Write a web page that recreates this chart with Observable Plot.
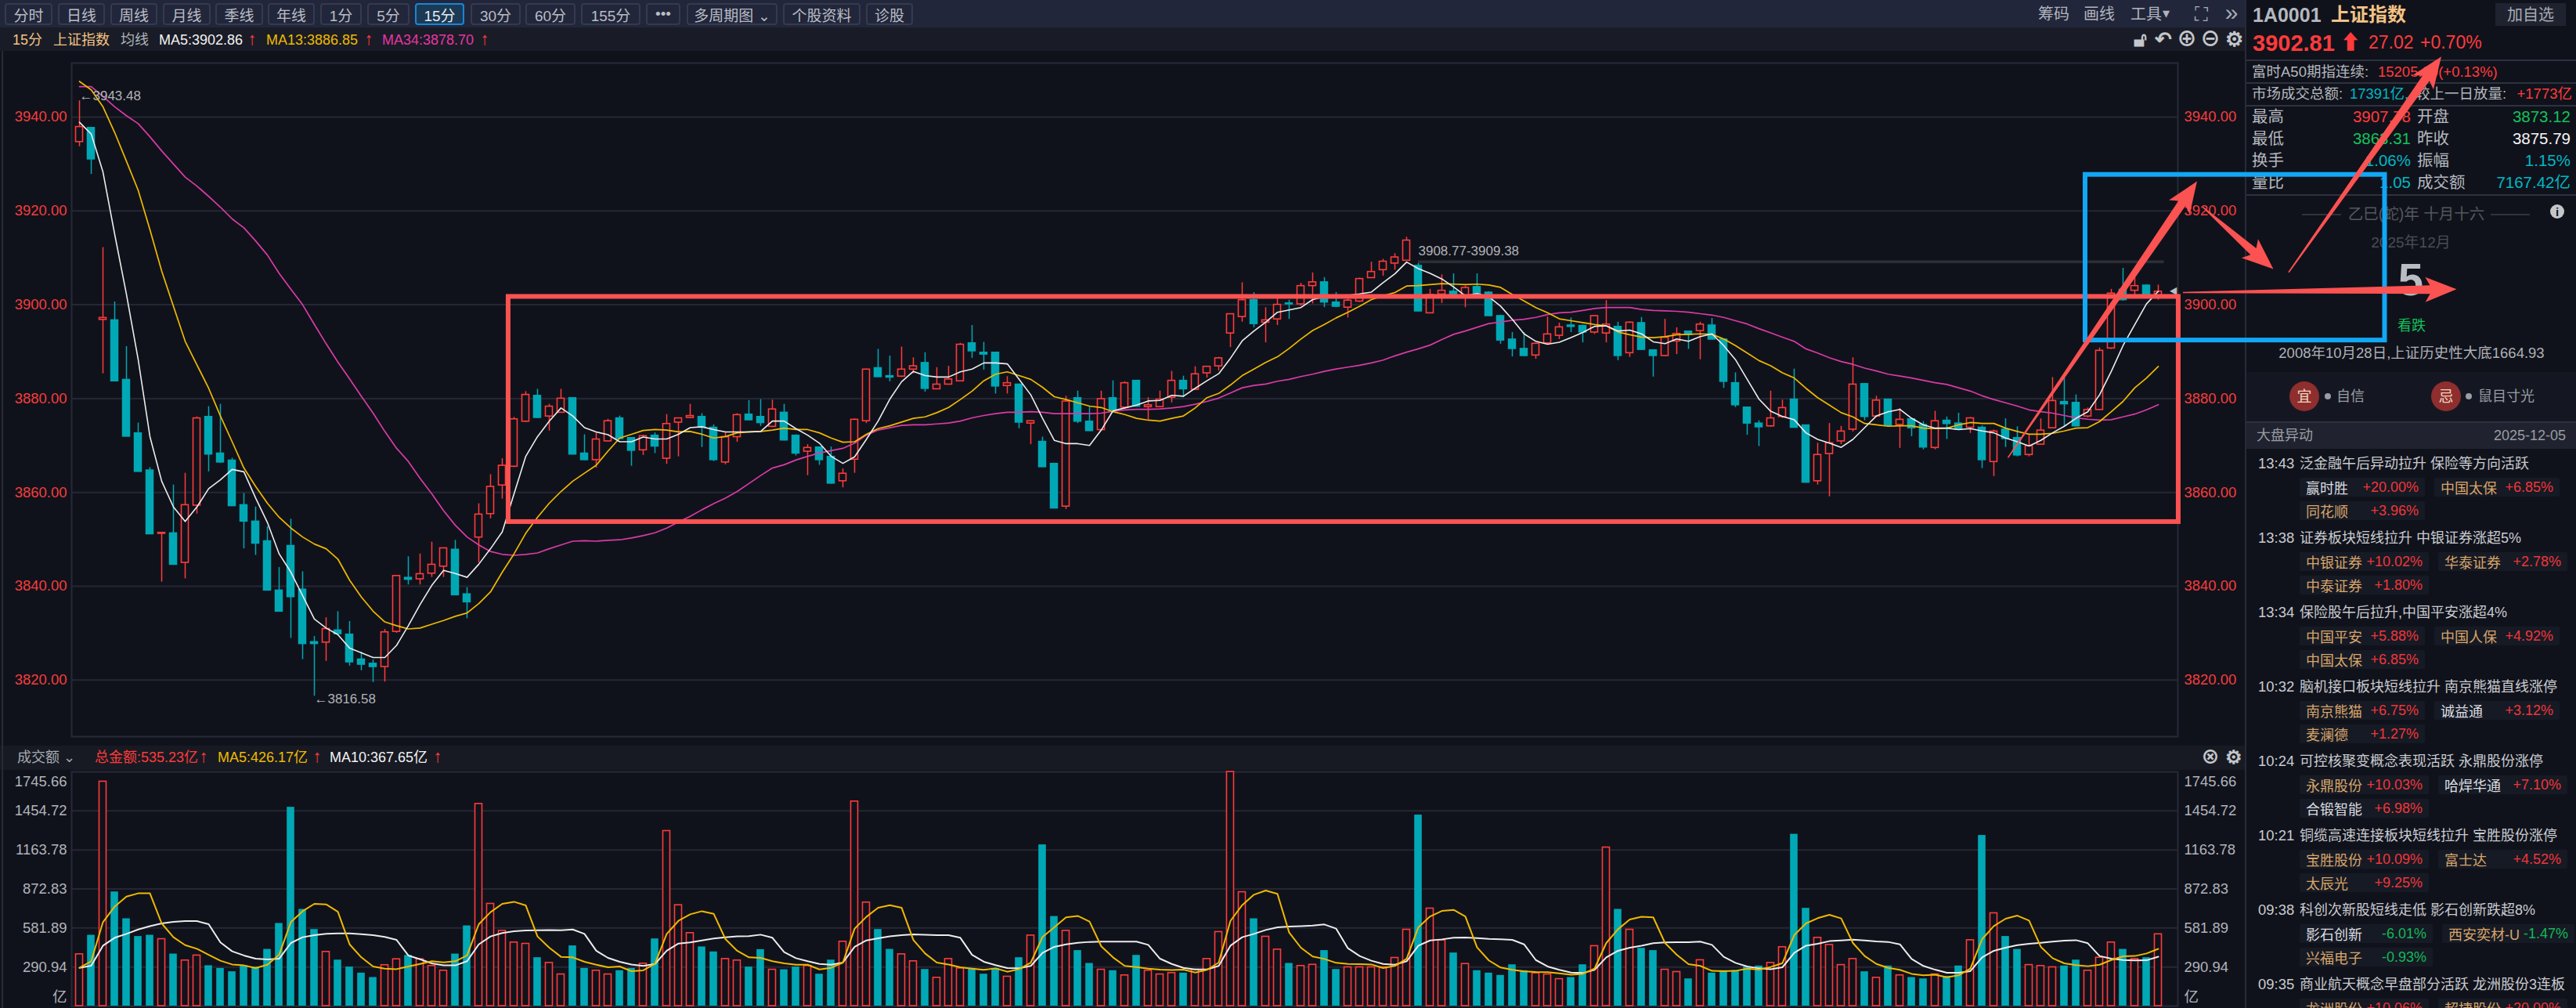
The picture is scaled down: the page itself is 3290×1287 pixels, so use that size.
<!DOCTYPE html>
<html lang="zh">
<head>
<meta charset="utf-8">
<title>上证指数 15分</title>
<script src="https://cdn.jsdelivr.net/npm/d3@7"></script>
<script src="https://cdn.jsdelivr.net/npm/@observablehq/plot@0.6"></script>
<style>
html,body{margin:0;padding:0;width:3290px;height:1287px;overflow:hidden;background:#10121b;font-family:"Liberation Sans","Noto Sans CJK SC",sans-serif;}
.a{position:absolute;white-space:nowrap;line-height:1;}
.c{transform:translate(-50%,-50%);}
.m{transform:translateY(-50%);}
.r{transform:translate(-100%,-50%);}
svg.plot,svg{display:block;}
#stage{position:absolute;left:0;top:0;width:3290px;height:1287px;overflow:hidden;}
.btn{position:absolute;top:4px;height:28px;box-sizing:border-box;border:2px solid #353a4e;border-radius:4px;background:#22263a;color:#b9bdc6;font-size:19px;display:flex;align-items:center;justify-content:center;}
.btn.on{background:#1c3a55;border-color:#1787d8;color:#e6e9ee;}
.pill{position:absolute;height:24px;background:#161a24;border-radius:2px;display:flex;align-items:center;justify-content:space-between;box-sizing:border-box;padding:0 8px;font-size:18px;white-space:nowrap;}
</style>
</head>
<body>
<div id="stage"></div>
<script>
// ---------- Candles (15 minute bars) ----------
const opens = [
3934.7,3937.7,3896.8,3896.7,3884,3872.6,3864.7,3851.2,3851.3,3845,
3857.2,3876.1,3868.3,3866.8,3857.3,3853.8,3849.6,3839.1,3848.6,3839.3,
3828.1,3828,3830.6,3829.7,3824.4,3823.5,3822.8,3830.3,3841.8,3841.5,
3842.7,3844.2,3847.8,3838.3,3850.4,3855.4,3861.5,3865.5,3875.1,3880.6,
3876.2,3877,3880.1,3868.3,3866.9,3870.9,3875.8,3871.6,3869,3872.1,
3867.2,3874.9,3875.9,3876.1,3873.8,3866.4,3871.8,3876.6,3876.1,3874,
3877,3872.1,3868.7,3869.6,3867.6,3862.4,3867,3875.2,3886.5,3884.8,
3884.7,3886.2,3887.6,3882,3883,3883.7,3891.8,3889.8,3889.8,3882.7,
3883,3874.7,3870.8,3866.1,3857,3880.1,3875.1,3873.3,3880.1,3878.1,
3883.8,3878.2,3878.2,3880.2,3883.8,3881.9,3885.4,3886.9,3893.9,3897.4,
3901,3896.2,3896.9,3900.3,3900.1,3904,3904.8,3900.5,3899.4,3900.7,
3905.7,3907.4,3908.8,3909.4,3908.3,3898.2,3902.2,3902.8,3902,3903.8,
3902.6,3897.6,3892.6,3890.6,3889.2,3891.8,3893.4,3895.6,3895.5,3894.1,
3893.9,3895.3,3889.7,3896.1,3890.3,3889.1,3892.2,3894.3,3894.4,3895.6,
3892.6,3883.3,3878.1,3874.7,3874.1,3876.1,3879.8,3874.3,3862.4,3868.2,
3870.9,3873.4,3883.1,3876.2,3879.8,3874.4,3875.6,3874.4,3869.5,3875.3,
3874.7,3873.8,3873.8,3866.5,3873.4,3871.6,3868,3870.2,3873.7,3879.3,
3879.1,3876.2,3877.6,3890.7,3903.2,3903,3904.1,3901.8];
const closes = [
3937.9,3931,3897.2,3883.7,3871.9,3864.4,3851.1,3851.4,3844.6,3857.3,
3875.8,3868.1,3866.4,3857.1,3853.8,3849.1,3839.1,3834.6,3837.7,3827.7,
3827.7,3830.9,3829.8,3823.8,3823.3,3822.8,3830.2,3842.2,3841.4,3842.6,
3844.6,3848.1,3838.1,3836.6,3855.3,3861.2,3865.7,3875.6,3880.8,3875.9,
3878.3,3880,3868.1,3866.9,3871.3,3875.2,3871.4,3868.9,3872,3869.8,
3874.6,3875.8,3876.3,3873.8,3866.9,3871.8,3876.5,3875.4,3874.8,3877.7,
3871.1,3868.3,3869.5,3866.9,3861.9,3864,3875.5,3886.2,3884.6,3884.5,
3886.2,3886.9,3882.1,3883,3884.1,3891.5,3890.1,3889.4,3882.6,3883.3,
3874.9,3875.2,3865.4,3856.6,3879.4,3875.1,3873.1,3879.9,3877.4,3883.3,
3878.3,3878.6,3879.8,3883.8,3882,3885.2,3886.8,3888.6,3898,3901,
3895.9,3896.7,3900,3900.1,3904,3904.8,3900.5,3899.6,3900.9,3905.5,
3907,3909.2,3910.1,3913.7,3898.6,3902.1,3903,3901.9,3903.6,3902.2,
3897.6,3892.4,3890.6,3889.1,3891.7,3893.7,3895.2,3895.3,3894.1,3897.6,
3895.8,3889.1,3896.2,3890.4,3889.1,3893,3893.8,3893.6,3895.8,3892.6,
3883.6,3878.6,3874.7,3873.9,3875.8,3878,3873.8,3862.1,3868,3870.5,
3873,3883,3876.1,3879.6,3874.2,3875.5,3873.7,3869.6,3875.2,3874.6,
3873.4,3875.8,3866.9,3873,3871.4,3867.9,3869.9,3873.2,3879.5,3878.8,
3874.1,3877.6,3890.2,3902.4,3901,3904,3901.9,3902.81];
const highs = [
3943.48,3937.7,3912.2,3900.6,3891.1,3874.8,3865.3,3851.5,3861.6,3864.1,
3876.1,3878.3,3878.8,3867.3,3859.8,3856.9,3852.7,3844,3854.3,3843.1,
3829.3,3833.3,3834.6,3832.5,3826,3824.3,3830.8,3842.3,3846.3,3846.9,
3849.4,3848.2,3849.8,3839.7,3857.6,3863.8,3867.2,3876,3881.5,3882,
3878.8,3882,3880.2,3872.3,3872.7,3875.6,3876.3,3871.7,3872.2,3872.7,
3876.6,3875.9,3878.8,3876.8,3874.4,3872.7,3876.8,3879.6,3879.8,3879.7,
3878.8,3872.3,3870.2,3869.7,3869.7,3865,3875.7,3886.3,3890.5,3889.1,
3891,3888.7,3889.8,3886.6,3886.9,3891.8,3895.6,3892,3889.9,3884.7,
3883.1,3875.3,3871.8,3866.2,3880.5,3881.6,3878.3,3881.6,3883.8,3883.6,
3883.9,3880.2,3881.6,3885.8,3884.8,3886.8,3886.9,3888.8,3898.1,3904.7,
3902.6,3899.4,3902,3901,3904.6,3906.8,3905.8,3902.6,3901.6,3905.7,
3909.1,3909.7,3910.9,3914.4,3908.8,3903.3,3906.4,3906.6,3904,3906.6,
3902.8,3897.8,3894.1,3894.1,3891.8,3897.4,3896.1,3897.2,3895.7,3897.7,
3900.9,3896.3,3896.4,3897.3,3890.4,3896.9,3895.1,3894.4,3896.3,3897.1,
3892.7,3885.5,3878.2,3875.3,3881.6,3879.7,3886.3,3874.4,3870.5,3874.7,
3874.1,3888.7,3883.2,3880.5,3879.9,3877.9,3875.7,3875.1,3877.3,3876.1,
3876.9,3876,3874.2,3873.3,3875.7,3874,3872.2,3875.7,3884.5,3884.4,
3880.8,3878,3890.8,3903.3,3907.78,3905.8,3904.3,3904.2];
const lows = [
3933.7,3927.8,3885.3,3883.7,3871.9,3864.4,3851.1,3840.9,3844.6,3841.6,
3855.4,3864.4,3866.2,3857,3848,3846.6,3839,3834.6,3828.9,3824.4,
3816.58,3824,3829.7,3823,3822,3819.5,3819.6,3830,3840.3,3840.3,
3841.9,3841.9,3838,3833.1,3845,3854.4,3858.6,3865.3,3874.9,3875.8,
3873.1,3876.9,3868,3866.8,3865.2,3870.8,3871.3,3865.6,3867.9,3868.3,
3866,3867.6,3875.8,3869.6,3866.6,3865.9,3870.7,3875.3,3874.1,3873.8,
3871,3867.8,3863.6,3865.8,3861.8,3861,3864.1,3874.7,3884.5,3883.6,
3884.5,3885.3,3881.4,3881.9,3882.9,3883.7,3888.6,3886.1,3881,3881,
3873.6,3870.2,3865.3,3856.5,3856.4,3874.7,3873,3873.1,3877.3,3878,
3878.2,3875.5,3878.1,3879.1,3880.2,3881.8,3884.4,3885.9,3890.9,3896.3,
3895.1,3891.9,3895.6,3896.9,3899.7,3900.2,3899.4,3899.4,3897.2,3900.5,
3905.6,3906.1,3907.4,3909.3,3898.5,3898.1,3900.3,3901.8,3899.4,3901.9,
3897.5,3891.6,3888.9,3889,3888.4,3891.6,3892.6,3894.1,3891.9,3893.7,
3891.9,3888.1,3888.8,3890.3,3884.6,3889,3889.4,3890.5,3888.3,3892.5,
3882.2,3878.1,3872.2,3869.8,3873.9,3875.8,3873.7,3862,3861.6,3859.1,
3870.2,3872.9,3875.3,3876,3874.1,3869.4,3871.9,3869.1,3869.1,3871.3,
3873.3,3872.6,3865.1,3863.4,3869.6,3867.6,3867.6,3870.1,3873.6,3874.1,
3874,3875.9,3877.5,3890.5,3900.8,3901.6,3901.8,3901];
// ---------- Moving averages on price ----------
const ma5 = [
3938.9,3936.4,3928.3,3915,3902.2,3888.3,3871.9,3862.4,3856.9,3853.8,
3856.9,3860.8,3862.7,3864.9,3864.4,3858.8,3853.6,3846.9,3843,3838,
3833,3831.1,3829.7,3826.8,3825.8,3824.8,3824.8,3827.4,3831.6,3836.1,
3840.2,3843.4,3842.7,3841.9,3844.7,3848,3851.6,3859.7,3867.7,3871.9,
3875.2,3878,3876.3,3873.8,3872.9,3872.3,3870.8,3870.8,3871.8,3871.4,
3871.4,3872.4,3873.8,3874,3873.4,3872.9,3872.9,3872.9,3873,3875.2,
3875.2,3873.6,3872.2,3870.5,3867.7,3866.2,3867.6,3871.3,3875.2,3879.9,
3883.6,3885.8,3884.9,3884.6,3884.6,3885.7,3886.3,3887.6,3887.6,3887.4,
3884.1,3880.8,3875.8,3871.1,3870.4,3870.4,3870,3873.3,3877.4,3878,
3878.6,3879.5,3879.6,3880.7,3880.5,3882.2,3883.8,3885.3,3888.6,3892.3,
3894.4,3896.3,3898.4,3898.9,3899.4,3901.1,3901.7,3901.9,3902,3902.3,
3902.7,3904.7,3906.6,3909.1,3907.7,3906.7,3905.5,3903.8,3901.9,3902.4,
3901.7,3899.7,3896.9,3893.8,3892.2,3891.6,3892,3893,3894.1,3895.4,
3895.5,3894.4,3894.6,3893.8,3892.1,3891.7,3892.7,3892.2,3893.2,3893.8,
3891.3,3888.3,3884.1,3879.9,3877.3,3876.2,3875.5,3872.7,3871.3,3870.5,
3869.6,3871.3,3873.8,3876.3,3877.2,3877.7,3875.8,3874.4,3873.7,3873.7,
3873.4,3873.6,3873.1,3872.7,3871.6,3870.8,3869.9,3871.1,3872.7,3874.1,
3875.8,3877.2,3880.8,3885.8,3891.3,3895.8,3900.2,3902.86];
const ma13 = [
3947.6,3945.8,3942.2,3936.7,3930.6,3924.4,3916,3907.2,3899.7,3892.2,
3887.2,3882.2,3876.3,3870.8,3865.2,3861.3,3857.7,3854.7,3852.4,3850.5,
3849,3848,3845.8,3841.3,3837.7,3834.7,3832.4,3831.6,3830.9,3831.1,
3831.9,3832.7,3833.6,3834.3,3836.3,3838.8,3843,3846.9,3851.3,3854.7,
3857.7,3860.2,3862.4,3864.1,3865.8,3868.8,3871.6,3872.4,3873.2,3873.4,
3873.3,3872.9,3873,3872.4,3871.6,3871.9,3872.7,3872.9,3873,3873.3,
3873.7,3873.4,3873.4,3872.7,3871.6,3870.7,3870.8,3872.4,3873.6,3874.2,
3875,3875.8,3876.1,3877,3878.1,3879.8,3881.6,3883.8,3885.2,3885.7,
3884.9,3884.1,3882.4,3880.4,3879.8,3879.1,3878.4,3878.1,3877.2,3876.6,
3875.8,3875.4,3875.2,3875.8,3876.3,3878,3880.2,3881.1,3882.9,3884.9,
3886.3,3887.7,3888.9,3890.7,3892.7,3894.5,3895.8,3897.2,3898.4,3899.7,
3901.1,3901.9,3902.6,3904,3904.1,3904.3,3904.5,3904.4,3904.3,3904.4,
3904.2,3903.7,3902.2,3900.8,3899.4,3898.3,3897,3896.6,3896.2,3895.8,
3895.5,3894.2,3893.6,3893.1,3893,3893.2,3893.6,3893.7,3893.8,3893.7,
3892.7,3891.3,3889.7,3888.1,3887,3885.5,3884.4,3882.2,3880.2,3878.6,
3877,3876.1,3874.7,3874.4,3874.1,3874.2,3874.2,3873.7,3873.6,3873.7,
3874.4,3874.9,3874.7,3874.7,3873.7,3873,3872.4,3872.4,3872.6,3873.1,
3873.7,3873.8,3875.1,3877.2,3879.4,3882.3,3884.4,3886.85];
const ma34 = [
3946.5,3946.5,3944.4,3942.2,3940.3,3938.6,3935.8,3932.8,3930,3927.2,
3925.3,3923.1,3920.8,3918.3,3916.4,3913.6,3910.6,3906.7,3903.3,3900,
3895.8,3891.7,3887.8,3884.2,3880.5,3876.9,3873,3869.4,3866.6,3863,
3859.7,3856.1,3853,3850.5,3848.8,3847.4,3846.8,3846.6,3846.8,3847.1,
3848,3848.8,3849.6,3849.7,3849.6,3849.8,3849.9,3850.3,3850.8,3851.4,
3852.4,3853.7,3854.9,3856.3,3857.6,3858.8,3860.2,3861.9,3863.6,3865.2,
3865.9,3866.9,3867.7,3868.4,3868.9,3869.4,3870.5,3872.2,3873.3,3873.8,
3874.3,3874.4,3874.4,3874.6,3874.8,3875.2,3875.9,3876.4,3876.8,3877.1,
3877.1,3877.2,3877.1,3876.8,3876.8,3876.8,3876.8,3876.9,3877.3,3877.6,
3877.7,3877.7,3877.8,3878,3878.3,3878.8,3879.4,3880.1,3881.2,3882.3,
3882.8,3883.1,3883.7,3884.1,3884.7,3885.2,3885.8,3886.3,3886.7,3887.1,
3887.6,3888.2,3889.1,3889.9,3890.6,3891.4,3892.6,3893.7,3894.4,3895.2,
3896,3896.3,3896.7,3896.9,3897.3,3897.9,3898.3,3898.4,3898.8,3899.2,
3899.4,3899.4,3899.4,3899,3898.8,3898.7,3898.6,3898.4,3898.1,3897.8,
3897.3,3896.6,3895.9,3894.9,3894,3893.1,3892.2,3890.6,3889.7,3888.7,
3887.9,3887.3,3886.5,3885.9,3885.2,3884.8,3884.4,3883.9,3883.4,3883,
3882.3,3881.6,3880.6,3879.8,3879.1,3878.4,3877.6,3877.2,3876.9,3876.4,
3875.9,3875.6,3875.4,3875.5,3876.1,3876.7,3877.6,3878.7];
// ---------- Turnover (亿) ----------
const volumes = [
386,528,1673,851,651,519,528,499,388,340,
377,301,281,256,301,291,423,616,1482,721,
571,404,343,291,246,213,305,349,378,349,
299,264,388,598,1507,762,561,474,464,361,
322,236,449,281,264,236,264,281,316,501,
1305,752,544,441,404,351,340,291,421,271,
271,291,299,238,343,480,1525,772,571,423,
386,334,273,211,351,281,281,238,281,219,
361,526,1202,668,561,414,318,271,264,229,
378,264,236,246,246,271,351,552,1745.66,849,
651,517,421,318,299,308,414,273,289,289,
289,289,359,569,1424,727,489,396,314,264,
246,229,308,264,244,236,201,213,308,447,
1182,721,569,431,414,271,254,203,342,246,
264,264,291,299,322,439,1281,729,509,456,
306,351,256,211,299,229,213,203,236,221,
299,491,1272,692,519,423,306,299,289,299,
343,264,361,474,423,351,361,535.23];
const volMa5 = [
285,334,626,742,816,840,840,616,513,454,
427,382,338,310,303,283,308,382,626,707,
762,758,703,460,363,295,279,275,295,314,
334,326,334,377,610,700,762,777,750,519,
435,367,363,330,308,289,295,260,266,314,
538,635,684,707,688,499,412,363,359,334,
318,308,308,273,285,324,577,665,733,752,
733,493,392,324,310,289,279,270,281,256,
275,324,515,587,661,672,630,445,363,299,
291,279,271,268,271,250,270,324,635,752,
830,861,836,548,435,369,351,322,314,312,
310,283,299,353,587,668,709,717,668,437,
340,287,270,258,254,252,244,233,240,279,
470,573,645,666,661,470,382,312,299,262,
260,262,279,271,291,320,528,616,655,680,
653,470,373,314,285,270,240,229,233,215,
229,279,499,596,651,674,637,441,357,318,
305,297,308,343,371,373,392,426.17];
const volMa10 = [
285,301,450,509,538,571,596,616,628,633,
633,610,474,408,377,353,347,353,470,513,
528,538,542,542,536,528,515,493,377,349,
318,303,303,334,460,519,544,557,563,565,
567,565,571,538,412,359,330,310,299,314,
412,466,474,489,503,513,519,521,532,509,
402,357,334,314,308,324,441,489,505,519,
528,534,532,528,528,509,382,330,305,283,
281,299,396,441,460,472,478,480,480,480,
480,456,353,314,285,273,273,299,450,513,
538,567,587,593,596,600,608,577,431,373,
338,314,308,334,450,489,497,509,511,507,
501,497,493,460,343,295,270,250,246,270,
363,412,435,450,468,474,476,476,480,456,
367,322,295,281,275,289,396,450,464,484,
489,495,489,482,478,460,351,299,271,248,
248,260,363,412,435,454,464,472,480,487,
491,468,373,353,343,340,341,367.65];
// ---------- Ticks ----------
const priceTicks = [3820,3840,3860,3880,3900,3920,3940];
const volTicks = [290.94,581.89,872.83,1163.78,1454.72];
// ---------- Hand-drawn annotations, in chart units (bar index, price) ----------
const redBox  = {x1:36.53, x2:178.73, y1:3853.7, y2:3901.7};
const blueBox = {x1:170.8, x2:196.3, y1:3892.4, y2:3927.7};
const arrowTails = [[164.2,3867.4],[180.8,3920.8],[188.1,3906.9],[179.1,3902.6]];
const arrowTips  = [[180.3,3926.3],[186.8,3907.6],[201.1,3952.9],[202.4,3903.3]];
// ---------- Layout constants ----------
const RED="#ff3b3b",CYAN="#00a8b5",BG="#10121b",GRID="#242733",ANN="#fb5252";
const FONT='"Liberation Sans","Noto Sans CJK SC",sans-serif';
const PXX=15, PXY=5.99;

const bars = d3.range(178).map(i=>({i,o:opens[i],c:closes[i],h:highs[i],l:lows[i],up:closes[i]>=opens[i],v:volumes[i],ma5:ma5[i],ma13:ma13[i],ma34:ma34[i],vm5:volMa5[i],vm10:volMa10[i]}));
const up = bars.filter(d=>d.up), dn = bars.filter(d=>!d.up);

// tapered arrow outline, worked out in screen-proportional units then returned in chart units
function arrowPoly(id,[x0,y0],[x1,y1]){
  const dx=(x1-x0)*PXX, dy=(y1-y0)*PXY, L=Math.hypot(dx,dy), ux=dx/L, uy=dy/L, nx=-uy, ny=ux;
  const headL=40, headW=16, neckW=5.5, tailW=0.8;
  const P=(along,side)=>({id,
    x:x0+(ux*along+nx*side)/PXX,
    y:y0+(uy*along+ny*side)/PXY});
  return [P(0,tailW),P(L-headL+6,neckW),P(L-headL,headW),P(L,0),P(L-headL,-headW),P(L-headL+6,-neckW),P(0,-tailW)];
}
const arrowPts = arrowTails.flatMap((t,k)=>arrowPoly(k,t,arrowTips[k]));

const xDomain=[-0.667,178.667];
const main = Plot.plot({
  width:3290,height:945,marginLeft:91,marginRight:509,marginTop:80,marginBottom:5,
  style:{background:"transparent",maxWidth:"none",overflow:"visible",fontFamily:FONT},
  x:{type:"linear",domain:xDomain,axis:null},
  y:{domain:[3807.95,3951.52]},
  marks:[
    Plot.gridY(priceTicks,{stroke:GRID,strokeOpacity:1,strokeWidth:2}),
    Plot.frame({stroke:"#262a38",strokeWidth:2}),
    Plot.axisY({anchor:"left",ticks:priceTicks,tickFormat:d=>d.toFixed(2),tickSize:0,tickPadding:6,fill:"#f53d3d",fontSize:18.5,label:null}),
    Plot.axisY({anchor:"right",ticks:priceTicks,tickFormat:d=>d.toFixed(2),tickSize:0,tickPadding:8,fill:"#f53d3d",fontSize:18.5,label:null}),
    Plot.rect([{x1:114,x2:177.5,y1:3908.77,y2:3909.38}],{x1:"x1",x2:"x2",y1:"y1",y2:"y2",fill:"#2c2e34"}),
    Plot.ruleX(up,{x:"i",y1:"l",y2:"h",stroke:RED,strokeWidth:1.5}),
    Plot.ruleX(dn,{x:"i",y1:"l",y2:"h",stroke:CYAN,strokeWidth:1.5}),
    Plot.rect(dn,{x1:d=>d.i-0.3,x2:d=>d.i+0.3,y1:"o",y2:"c",fill:CYAN,stroke:CYAN,strokeWidth:1.5}),
    Plot.rect(up,{x1:d=>d.i-0.3,x2:d=>d.i+0.3,y1:"o",y2:"c",fill:BG,stroke:RED,strokeWidth:1.6}),
    Plot.line(bars,{x:"i",y:"ma34",stroke:"#d83ba6",strokeWidth:1.7}),
    Plot.line(bars,{x:"i",y:"ma13",stroke:"#efb900",strokeWidth:1.7}),
    Plot.line(bars,{x:"i",y:"ma5",stroke:"#ececec",strokeWidth:1.6}),
    Plot.text([{x:0,y:3943.48}],{x:"x",y:"y",text:()=>"←3943.48",textAnchor:"start",dy:-6,fill:"#b0b3b8",fontSize:17}),
    Plot.text([{x:20,y:3816.58}],{x:"x",y:"y",text:()=>"←3816.58",textAnchor:"start",dy:4,fill:"#b0b3b8",fontSize:17}),
    Plot.text([{x:114,y:3909.38}],{x:"x",y:"y",text:()=>"3908.77-3909.38",textAnchor:"start",dy:-12,fill:"#b0b3b8",fontSize:17}),
    Plot.text([{x:178.3,y:3902.81}],{x:"x",y:"y",text:()=>"◀",fill:"#b9bcc2",fontSize:11}),
    Plot.rect([redBox],{x1:"x1",x2:"x2",y1:"y1",y2:"y2",fill:"none",stroke:ANN,strokeWidth:6}),
    Plot.rect([blueBox],{x1:"x1",x2:"x2",y1:"y1",y2:"y2",fill:"none",stroke:"#12a7f5",strokeWidth:6}),
    Plot.line(arrowPts,{x:"x",y:"y",z:"id",fill:ANN,stroke:"none",curve:"linear"})
  ]
});
main.style.position="absolute";main.style.left="0";main.style.top="0";main.style.zIndex="5";

const volTop=940;
const vol = Plot.plot({
  width:2870,height:347,marginLeft:91,marginRight:89,marginTop:45,marginBottom:3,
  style:{background:"transparent",maxWidth:"none",overflow:"visible",fontFamily:FONT},
  x:{type:"linear",domain:xDomain,axis:null},
  y:{domain:[0,1745.66]},
  marks:[
    Plot.gridY(volTicks,{stroke:GRID,strokeOpacity:1,strokeWidth:2}),
    Plot.frame({stroke:"#262a38",strokeWidth:2}),
    Plot.axisY({anchor:"left",ticks:volTicks,tickFormat:d=>d.toFixed(2),tickSize:0,tickPadding:6,fill:"#b0b4bb",fontSize:18.5,label:null}),
    Plot.axisY({anchor:"right",ticks:volTicks,tickFormat:d=>d.toFixed(2),tickSize:0,tickPadding:8,fill:"#b0b4bb",fontSize:18.5,label:null}),
    Plot.text([{y:1673,t:"1745.66"},{y:67,t:"亿"}],{x:()=>-0.667,y:"y",text:"t",textAnchor:"end",dx:-6,fill:"#b0b4bb",fontSize:18.5}),
    Plot.text([{y:1673,t:"1745.66"},{y:67,t:"亿"}],{x:()=>178.667,y:"y",text:"t",textAnchor:"start",dx:8,fill:"#b0b4bb",fontSize:18.5}),
    Plot.rect(dn,{x1:d=>d.i-0.32,x2:d=>d.i+0.32,y1:()=>0,y2:"v",fill:CYAN}),
    Plot.rect(up,{x1:d=>d.i-0.3,x2:d=>d.i+0.3,y1:()=>0,y2:"v",fill:BG,stroke:RED,strokeWidth:1.6}),
    Plot.line(bars,{x:"i",y:"vm10",stroke:"#ececec",strokeWidth:2}),
    Plot.line(bars,{x:"i",y:"vm5",stroke:"#efb900",strokeWidth:2})
  ]
});
vol.style.position="absolute";vol.style.left="0";vol.style.top=volTop+"px";vol.style.zIndex="4";

// ---------- Chrome (real text, plain HTML) ----------
const stage=document.getElementById("stage");
function box(x,y,w,h,bg,z){const e=document.createElement("div");e.style.cssText=`position:absolute;left:${x}px;top:${y}px;width:${w}px;height:${h}px;background:${bg};z-index:${z||1};`;stage.appendChild(e);return e;}
function txt(t,x,y,size,color,opt={}){const e=document.createElement("div");e.className="a "+(opt.cls||"m");e.textContent=t;e.style.cssText+=`left:${x}px;top:${y}px;font-size:${size}px;color:${color};z-index:${opt.z||2};font-weight:${opt.bold?700:400};`;stage.appendChild(e);return e;}

box(0,0,2868,35,"#22263a");box(0,35,2868,30,"#191c26");box(0,952,2868,31,"#171a23");
box(2867,0,2,1287,"#262a38");box(2,65,2,1222,"#262a38");

const buttons=[["分时",6,61],["日线",74,60],["周线",141,60],["月线",208,61],["季线",275,61],["年线",342,60],["1分",409,53],["5分",469,54],["15分",530,63,1],["30分",601,64],["60分",671,64],["155分",742,76],["•••",825,44],["多周期图 ⌄",877,116],["个股资料",1000,99],["诊股",1106,60]];
buttons.forEach(([t,x,w,on])=>{const e=document.createElement("div");e.className="btn"+(on?" on":"");e.textContent=t;e.style.left=x+"px";e.style.width=w+"px";e.style.zIndex=2;stage.appendChild(e);});
[["筹码",2603],["画线",2661],["工具",2721]].forEach(([t,x])=>txt(t,x,18,20,"#b0b4bd"));
txt("▾",2766,17,18,"#b0b4bd",{cls:"c"});txt("⛶",2811,18,24,"#a8acb4",{cls:"c"});txt("»",2850,16,30,"#a8acb4",{cls:"c"});

txt("15分",16,51,18,"#f3c384");txt("上证指数",68,51,18,"#f3c384");txt("均线",154,51,18,"#aeb2ba");
[["MA5:3902.86","#f2f2f2",203],["MA13:3886.85","#efb900",340],["MA34:3878.70","#e735a5",488]].forEach(([t,c,x])=>{txt(t,x,51,18,c);});
[322,471,619].forEach(x=>txt("↑",x,50,22,"#ff3b3b",{cls:"c",bold:true}));
[["↶",2763],["⊕",2793],["⊖",2823],["⚙",2853],["🔓︎",2733]].forEach(([t,x])=>txt(t,x,50,26,"#c4c6ca",{cls:"c",bold:true}));

txt("成交额  ⌄",22,967,18,"#a8acb4");
[["总金额:535.23亿","#ff3b3b",121,260],["MA5:426.17亿","#efb900",278,405],["MA10:367.65亿","#f2f2f2",421,559]].forEach(([t,c,x,ax])=>{txt(t,x,967,18,c);txt("↑",ax,966,22,"#ff3b3b",{cls:"c",bold:true});});
txt("⊗",2823,967,24,"#c4c6ca",{cls:"c",bold:true});txt("⚙",2853,967,24,"#c4c6ca",{cls:"c",bold:true});

// ---------- Right panel ----------
const GREY="#b4b8bf";
box(3187,4,90,29,"#1f2330");txt("加自选",3232,19,20,"#a8acb4",{cls:"c"});
txt("1A0001",2877,19,25,GREY,{bold:true});txt("上证指数",2977,19,24,"#f3c384",{bold:true});
txt("3902.81",2877,55,29,"#ff3b3b",{bold:true});txt("⬆",3002,54,26,"#ff3b3b",{cls:"c",bold:true});
txt("27.02",3025,54,23,"#ff3b3b");txt("+0.70%",3091,54,23,"#ff3b3b");
[76,105,134,248,538].forEach(y=>box(2869,y,421,2,"#2e3240"));
txt("富时A50期指连续:",2876,92,18.5,GREY);txt("15205.00(+0.13%)",3037,92,18.5,"#ff3b3b");
txt("市场成交总额:",2876,120,18.5,GREY);txt("17391亿,",3001,120,18.5,"#00b7c3");txt("较上一日放量:",3085,120,18.5,GREY);txt("+1773亿",3285,120,18.5,"#ff3b3b",{cls:"r"});
const GRN="#13c25a",CY2="#00b7c3";
[["最高","3907.78","#ff3b3b","开盘","3873.12",GRN,149],["最低","3863.31",GRN,"昨收","3875.79","#f4f4f4",177],["换手","1.06%",CY2,"振幅","1.15%",CY2,205],["量比","1.05",CY2,"成交额","7167.42亿",CY2,233]].forEach(([a,b,c,d,e,f,y])=>{
  txt(a,2876,y,20.5,GREY);txt(b,3079,y,20.5,c,{cls:"r"});txt(d,3087,y,20.5,GREY);txt(e,3283,y,20.5,f,{cls:"r"});
});
txt("乙巳(蛇)年 十月十六",3086,274,19.5,"#54575f",{cls:"c"});
box(2940,273,50,1.5,"#30333b");box(3181,273,50,1.5,"#30333b");
const info=box(3257,261,18,18,"#c4c6ca",2);info.style.borderRadius="50%";
txt("i",3266,270,15,"#10121b",{cls:"c",bold:true,z:3});
txt("2025年12月",3079,309,19,"#4a4d55",{cls:"c"});
txt("5",3079,357,58,"#b9bcc2",{cls:"c",bold:true});
txt("看跌",3080,416,18,GRN,{cls:"c"});
txt("2008年10月28日,上证历史性大底1664.93",3080,451,18.5,"#aeb1b7",{cls:"c"});
box(2869,475,421,63,"#141722");
[[2943,"宜",2973,"自信",2984],[3124,"忌",3153,"鼠目寸光",3165]].forEach(([cx,ch,dx,t,tx])=>{
  const c=box(cx-19,487,38,38,"#8e2e2e",2);c.style.borderRadius="50%";
  txt(ch,cx,506,19,"#f0d9c0",{cls:"c"});const d=box(dx-4,502,8,8,"#9a9da3",2);d.style.borderRadius="50%";txt(t,tx,506,18,"#9a9da3");
});
box(2869,540,421,33,"#20232f");txt("大盘异动",2882,556,18,"#9a9da3");txt("2025-12-05",3277,556,18,"#9a9da3",{cls:"r"});

const TAN="#d9a56b",WHT="#dcdde0",UPC="#f0363a",DNC="#12b85a";
const newsTimes=["13:43","13:38","13:34","10:32","10:24","10:21","09:38","09:35"];
const newsTitles=["泛金融午后异动拉升 保险等方向活跃","证券板块短线拉升 中银证券涨超5%","保险股午后拉升,中国平安涨超4%","脑机接口板块短线拉升 南京熊猫直线涨停","可控核聚变概念表现活跃 永鼎股份涨停","铜缆高速连接板块短线拉升 宝胜股份涨停","科创次新股短线走低 影石创新跌超8%","商业航天概念早盘部分活跃 龙洲股份3连板"];
const newsStocks=[
 [["赢时胜","+20.00%",WHT],["中国太保","+6.85%",TAN],["同花顺","+3.96%",TAN]],
 [["中银证券","+10.02%",TAN],["华泰证券","+2.78%",TAN],["中泰证券","+1.80%",TAN]],
 [["中国平安","+5.88%",TAN],["中国人保","+4.92%",TAN],["中国太保","+6.85%",TAN]],
 [["南京熊猫","+6.75%",TAN],["诚益通","+3.12%",WHT],["麦澜德","+1.27%",TAN]],
 [["永鼎股份","+10.03%",TAN],["哈焊华通","+7.10%",WHT],["合锻智能","+6.98%",WHT]],
 [["宝胜股份","+10.09%",TAN],["富士达","+4.52%",TAN],["太辰光","+9.25%",TAN]],
 [["影石创新","-6.01%",WHT],["西安奕材-U","-1.47%",TAN],["兴福电子","-0.93%",TAN]],
 [["龙洲股份","+10.06%",TAN],["超捷股份","+20.00%",TAN],["","",TAN]]
];
const pillW=[[160,160],[165,165],[160,160],[160,160],[165,165],[165,165],[170,169],[165,165]];
const pillX2=[3109,3114,3109,3109,3114,3114,3119,3114];
function pill(x,y,w,[n,v,c]){if(!n)return;const e=document.createElement("div");e.className="pill";e.style.left=x+"px";e.style.top=(y-12)+"px";e.style.width=w+"px";e.style.zIndex=2;
  const a=document.createElement("span");a.textContent=n;a.style.color=c;const b=document.createElement("span");b.textContent=v;b.style.color=v[0]==="-"?DNC:UPC;e.append(a,b);stage.appendChild(e);}
newsTimes.forEach((t,k)=>{
  const y=592+95*k;
  txt(t,2884,y,18.5,"#c9cbd0");txt(newsTitles[k],2937,y,18,"#c9cbd0");
  pill(2937,y+30,pillW[k][0],newsStocks[k][0]);
  pill(pillX2[k],y+30,pillW[k][1],newsStocks[k][1]);
  pill(2937,y+60,pillW[k][0],newsStocks[k][2]);
});
stage.appendChild(vol);stage.appendChild(main);
</script>
</body>
</html>
